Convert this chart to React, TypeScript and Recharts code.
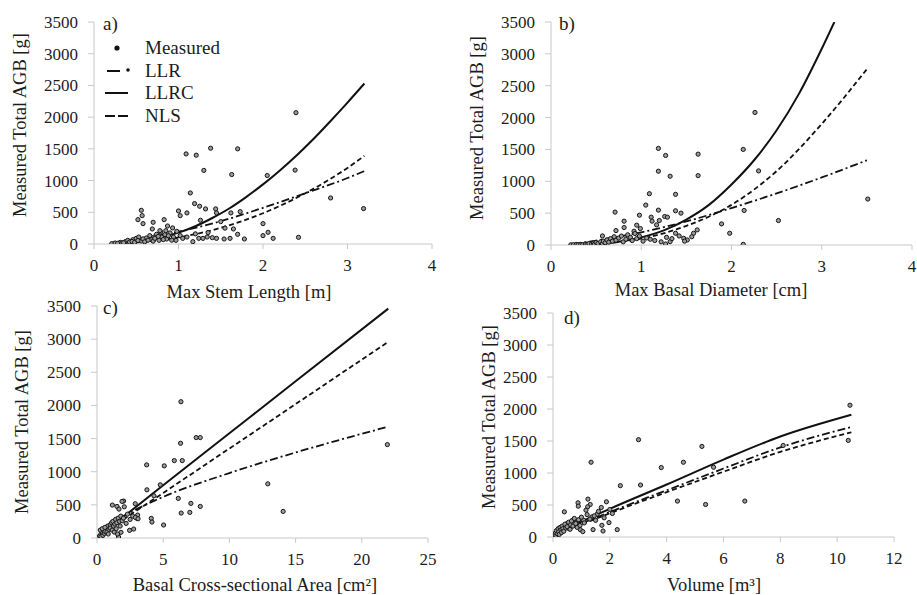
import { ComposedChart, Scatter, Line, XAxis, YAxis } from "recharts";

type Pt = [number, number];

// ---- shared axis ticks ----
const agbTicks = [0, 500, 1000, 1500, 2000, 2500, 3000, 3500];
const stemTicks = [0, 1, 2, 3, 4];
const diamTicks = [0, 1, 2, 3, 4];
const areaTicks = [0, 5, 10, 15, 20, 25];
const volTicks = [0, 2, 4, 6, 8, 10, 12];

// ---- a) max stem length ----
const stemMeasured: Pt[] = [
  [2.39, 2070], [1.09, 1420], [1.21, 1400], [1.38, 1510], [1.7, 1500], [1.3, 1160],
  [1.63, 1095], [2.05, 1080], [2.38, 1165], [1.14, 805], [1.19, 637], [1.25, 595],
  [1.32, 553], [1.44, 553], [2.8, 726], [3.19, 558], [1.0, 521], [1.1, 490],
  [1.02, 447], [0.56, 531], [0.57, 447], [0.52, 384], [0.58, 321], [0.7, 342],
  [0.83, 384], [0.87, 284], [0.93, 253], [1.26, 374], [1.45, 490], [1.5, 353],
  [1.62, 490], [1.73, 510], [1.65, 237], [1.7, 153], [1.78, 79], [2.0, 321],
  [2.0, 132], [2.06, 184], [2.12, 89], [2.42, 105], [0.21, 5], [0.25, 16],
  [0.31, 26], [0.37, 37], [0.4, 58], [0.46, 68], [0.5, 89], [0.53, 110],
  [0.56, 47], [0.62, 95], [0.66, 132], [0.68, 68], [0.71, 110], [0.74, 153],
  [0.77, 58], [0.8, 110], [0.84, 147], [0.86, 79], [0.9, 174], [0.94, 110],
  [0.97, 58], [1.02, 132], [1.05, 89], [1.1, 110], [1.17, 37], [1.24, 89],
  [1.29, 89], [1.34, 110], [1.4, 100], [1.45, 89], [1.54, 79], [1.61, 89],
  [0.28, 10], [0.33, 15], [0.35, 20], [0.42, 30], [0.45, 40], [0.48, 25],
  [0.52, 55], [0.58, 80], [0.6, 35], [0.64, 60], [0.7, 45], [0.72, 90],
  [0.76, 120], [0.82, 70], [0.88, 130], [0.92, 60], [0.98, 200], [0.79, 190],
  [0.85, 210], [0.69, 237], [0.78, 210], [1.2, 160], [1.35, 180], [1.55, 250],
];
const stemLLR: Pt[] = [
  [0.2, 18], [0.5, 70], [1.0, 195], [1.5, 360], [2.0, 570], [2.5, 800], [3.0, 1040], [3.2, 1150],
];
const stemLLRC: Pt[] = [
  [0.2, 3], [0.4, 20], [0.6, 55], [0.8, 110], [1.0, 180], [1.2, 280], [1.4, 410], [1.6, 560],
  [1.8, 740], [2.0, 940], [2.2, 1160], [2.4, 1400], [2.6, 1660], [2.8, 1940], [3.0, 2230], [3.2, 2530],
];
const stemNLS: Pt[] = [
  [0.2, 2], [0.5, 22], [1.0, 103], [1.5, 255], [2.0, 485], [2.5, 800], [3.0, 1200], [3.2, 1390],
];

// ---- b) max basal diameter ----
const diamMeasured: Pt[] = [
  [2.26, 2080], [1.19, 1516], [1.27, 1405], [1.63, 1426], [1.19, 1158], [1.32, 1079],
  [1.63, 1089], [2.13, 1500], [2.3, 1163], [1.09, 805], [1.38, 795], [3.51, 721],
  [1.05, 626], [1.19, 547], [1.38, 537], [1.44, 500], [0.71, 516], [2.14, 542],
  [2.52, 384], [1.89, 331], [1.98, 184], [2.13, 10], [0.98, 468], [1.11, 437],
  [1.12, 374], [1.26, 447], [1.29, 437], [0.81, 374], [0.81, 274], [0.95, 311],
  [0.99, 258], [0.72, 226], [0.92, 216], [1.2, 384], [1.17, 316], [1.62, 237],
  [1.58, 184], [1.38, 184], [1.42, 142], [1.47, 105], [1.51, 79], [1.32, 53],
  [1.27, 16], [0.57, 142], [0.22, 3], [0.25, 5], [0.28, 8], [0.3, 4], [0.33, 10],
  [0.35, 6], [0.38, 15], [0.4, 12], [0.42, 22], [0.45, 18], [0.47, 30], [0.48, 10],
  [0.5, 40], [0.52, 25], [0.55, 50], [0.57, 20], [0.58, 60], [0.6, 35], [0.62, 80],
  [0.64, 45], [0.66, 100], [0.68, 60], [0.7, 130], [0.72, 75], [0.75, 110],
  [0.78, 140], [0.8, 50], [0.83, 90], [0.85, 160], [0.88, 120], [0.9, 70],
  [0.93, 180], [0.95, 100], [0.98, 140], [1.02, 60], [1.06, 110], [1.1, 90],
  [1.15, 70], [1.22, 50], [1.28, 120], [1.34, 100], [1.56, 130], [1.48, 60],
];
const diamLLR: Pt[] = [
  [0.25, 12], [0.5, 70], [1.0, 200], [1.5, 370], [2.0, 580], [2.5, 810], [3.0, 1060], [3.5, 1330],
];
const diamLLRC: Pt[] = [
  [0.25, 1], [0.5, 15], [0.75, 50], [1.0, 120], [1.25, 230], [1.5, 400], [1.75, 630],
  [2.0, 950], [2.25, 1330], [2.5, 1800], [2.75, 2380], [3.0, 3080], [3.14, 3500],
];
const diamNLS: Pt[] = [
  [0.25, 2], [0.5, 16], [1.0, 100], [1.5, 300], [2.0, 630], [2.5, 1160], [3.0, 1900], [3.5, 2760],
];

// ---- c) basal cross-sectional area ----
const areaMeasured: Pt[] = [
  [6.34, 2056], [6.31, 1429], [7.49, 1515], [7.8, 1515], [5.84, 1168], [6.44, 1168],
  [3.75, 1103], [5.08, 1088], [21.93, 1409], [4.78, 802], [12.9, 817], [3.77, 727],
  [4.3, 637], [6.14, 597], [7.09, 522], [7.8, 476], [6.36, 376], [7.01, 386],
  [14.06, 401], [2.89, 517], [4.1, 296], [4.15, 241], [5.03, 196], [2.01, 557],
  [1.89, 552], [1.16, 497], [1.51, 476], [1.66, 436], [2.06, 471], [3.02, 296],
  [3.07, 346], [2.77, 135], [2.46, 115], [1.63, 15], [1.81, 85], [0.1, 10],
  [0.2, 30], [0.3, 60], [0.3, 20], [0.4, 80], [0.45, 40], [0.5, 120], [0.55, 70],
  [0.6, 100], [0.7, 150], [0.75, 90], [0.8, 180], [0.85, 60], [0.9, 130],
  [1.0, 200], [1.0, 150], [1.1, 230], [1.15, 120], [1.2, 250], [1.25, 180],
  [1.3, 90], [1.35, 210], [1.4, 280], [1.45, 140], [1.5, 230], [1.55, 60],
  [1.6, 300], [1.7, 250], [1.75, 180], [1.8, 330], [1.9, 260], [2.0, 300],
  [2.2, 220], [2.3, 360], [2.5, 280], [2.7, 330], [2.9, 310], [3.1, 290],
  [0.25, 120], [0.4, 140], [0.6, 160],
];
const areaLLR: Pt[] = [
  [0, 0], [0.5, 130], [1, 210], [2, 330], [5, 620], [10, 980], [15, 1290], [22, 1680],
];
const areaLLRC: Pt[] = [
  [0, 0], [2, 320], [5, 795], [10, 1580], [15, 2365], [22, 3460],
];
const areaNLS: Pt[] = [
  [0, 0], [2, 280], [5, 680], [10, 1350], [15, 2020], [22, 2960],
];

// ---- d) volume ----
const volMeasured: Pt[] = [
  [10.45, 2059], [3.01, 1520], [5.24, 1415], [1.34, 1168], [3.81, 1085], [4.59, 1168],
  [10.39, 1509], [2.37, 802], [3.08, 812], [4.38, 561], [5.37, 508], [6.75, 561],
  [8.1, 1430], [5.65, 1090], [0.4, 393], [0.88, 534], [0.89, 482], [1.23, 592],
  [1.31, 508], [1.22, 472], [1.16, 419], [1.88, 550], [1.7, 461], [1.41, 115],
  [1.72, 183], [1.76, 94], [1.97, 225], [2.09, 367], [2.26, 115], [0.96, 115],
  [1.05, 84], [0.7, 262], [0.49, 210], [0.84, 236], [1.08, 262], [1.37, 314],
  [1.55, 356], [0.03, 10], [0.05, 30], [0.08, 60], [0.1, 20], [0.12, 100],
  [0.15, 50], [0.18, 130], [0.2, 80], [0.22, 40], [0.25, 150], [0.28, 110],
  [0.3, 70], [0.32, 170], [0.35, 130], [0.38, 90], [0.42, 200], [0.45, 140],
  [0.5, 160], [0.55, 230], [0.6, 120], [0.62, 190], [0.65, 250], [0.7, 170],
  [0.75, 290], [0.8, 210], [0.85, 150], [0.9, 270], [0.95, 180], [1.0, 310],
  [1.1, 220], [1.2, 350], [1.3, 280], [1.45, 330], [1.5, 260], [1.6, 400],
  [1.8, 300], [2.0, 430],
];
const volLLR: Pt[] = [
  [0, 0], [0.5, 110], [1, 210], [2, 390], [4, 730], [6, 1070], [8, 1400], [10.5, 1720],
];
const volLLRC: Pt[] = [
  [0, 0], [0.5, 130], [1, 240], [2, 440], [4, 820], [6, 1210], [8, 1570], [10.5, 1910],
];
const volNLS: Pt[] = [
  [0, 0], [0.5, 100], [1, 195], [2, 370], [4, 700], [6, 1020], [8, 1330], [10.5, 1635],
];

const legendItems = ["Measured", "LLR", "LLRC", "NLS"];

const toXY = (pts: Pt[]) => pts.map(([x, y]) => ({ x, y }));

const FONT = "'Liberation Serif', 'Times New Roman', serif";
const INK = "#1c1c1c";
const AXIS = "#c8c8c8";
const LLR_DASH = "8 3 2 3";
const NLS_DASH = "5 3";

const tickText = { fontFamily: FONT, fontSize: 17, fill: INK };

const dot = (props: any) => (
  <circle cx={props.cx} cy={props.cy} r={2.1} fill="#9a9a9a" stroke="#151515" strokeWidth={1} />
);

// custom ticks so the serif face and size are applied for sure
const xTick = (props: any) => (
  <text x={props.x} y={props.y + 11} textAnchor="middle" style={tickText}>
    {props.payload.value}
  </text>
);
const yTick = (props: any) => (
  <text x={props.x} y={props.y + 6} textAnchor="end" style={tickText}>
    {props.payload.value}
  </text>
);

const LegendMark = ({ kind }: { kind: string }) => (
  <svg width={40} height={12}>
    {kind === "Measured" && <circle cx={12} cy={6} r={2.6} fill="#111" />}
    {kind === "LLRC" && <line x1={0} x2={23} y1={6} y2={6} stroke="#111" strokeWidth={2} />}
    {kind === "NLS" && (
      <line x1={0} x2={23} y1={6} y2={6} stroke="#111" strokeWidth={2} strokeDasharray="10 3" />
    )}
    {kind === "LLR" && (
      <g>
        <line x1={2} x2={15} y1={6} y2={6} stroke="#111" strokeWidth={2} />
        <circle cx={23} cy={5} r={1.8} fill="#111" />
      </g>
    )}
  </svg>
);

const LegendBox = () => (
  <div style={{ position: "absolute", left: 105, top: 37, fontFamily: FONT, fontSize: 19, color: INK }}>
    {legendItems.map((k) => (
      <div key={k} style={{ height: 22.5, display: "flex", alignItems: "center" }}>
        <LegendMark kind={k} />
        <span>{k}</span>
      </div>
    ))}
  </div>
);

interface PanelProps {
  left: number;
  top: number;
  margin: { top: number; right: number; bottom: number; left: number };
  xMax: number;
  xTicks: number[];
  measured: Pt[];
  llr: Pt[];
  llrc: Pt[];
  nls: Pt[];
}

const Panel = ({ left, top, margin, xMax, xTicks, measured, llr, llrc, nls }: PanelProps) => (
  <div style={{ position: "absolute", left, top, fontFamily: FONT }}>
    <ComposedChart width={460} height={300} margin={margin} style={{ fontFamily: FONT }}>
      <XAxis
        type="number"
        dataKey="x"
        domain={[0, xMax]}
        ticks={xTicks}
        interval={0}
        height={30}
        stroke={AXIS}
        tickSize={5}
        tickMargin={11}
        tick={xTick}
        allowDataOverflow
      />
      <YAxis
        type="number"
        dataKey="y"
        domain={[0, 3500]}
        ticks={agbTicks}
        interval={0}
        width={60}
        stroke={AXIS}
        tickSize={6}
        tickMargin={10}
        tick={yTick}
        allowDataOverflow
      />
      <Scatter data={toXY(measured)} shape={dot} isAnimationActive={false} />
      <Line data={toXY(llr)} dataKey="y" type="monotone" dot={false} stroke="#111" strokeWidth={1.8}
        strokeDasharray={LLR_DASH} isAnimationActive={false} />
      <Line data={toXY(llrc)} dataKey="y" type="monotone" dot={false} stroke="#111" strokeWidth={2}
        isAnimationActive={false} />
      <Line data={toXY(nls)} dataKey="y" type="monotone" dot={false} stroke="#111" strokeWidth={1.8}
        strokeDasharray={NLS_DASH} isAnimationActive={false} />
    </ComposedChart>
  </div>
);

const Title = ({ x, y, text, rotate }: { x: number; y: number; text: string; rotate?: boolean }) => (
  <div
    style={{
      position: "absolute",
      left: x,
      top: y,
      transform: `translate(-50%, -50%)${rotate ? " rotate(-90deg)" : ""}`,
      whiteSpace: "nowrap",
      fontFamily: FONT,
      fontSize: 18.5,
      color: INK,
      lineHeight: 1,
    }}
  >
    {text}
  </div>
);

const Tag = ({ x, y, text }: { x: number; y: number; text: string }) => (
  <div
    style={{
      position: "absolute",
      left: x,
      top: y,
      transform: "translateY(-50%)",
      fontFamily: FONT,
      fontSize: 19,
      color: INK,
      lineHeight: 1,
    }}
  >
    {text}
  </div>
);

export default function App() {
  return (
    <div style={{ position: "absolute", left: 0, top: 0, width: 917, height: 595, background: "#fff", overflow: "hidden" }}>
      <Panel left={0} top={0} margin={{ top: 22, right: 28, bottom: 26, left: 34 }} xMax={4} xTicks={stemTicks}
        measured={stemMeasured} llr={stemLLR} llrc={stemLLRC} nls={stemNLS} />
      <Panel left={457} top={0} margin={{ top: 22, right: 5, bottom: 25, left: 34 }} xMax={4} xTicks={diamTicks}
        measured={diamMeasured} llr={diamLLR} llrc={diamLLRC} nls={diamNLS} />
      <Panel left={0} top={290} margin={{ top: 16, right: 32, bottom: 22, left: 37 }} xMax={25} xTicks={areaTicks}
        measured={areaMeasured} llr={areaLLR} llrc={areaLLRC} nls={areaNLS} />
      <Panel left={457} top={290} margin={{ top: 23, right: 23, bottom: 23, left: 36 }} xMax={12} xTicks={volTicks}
        measured={volMeasured} llr={volLLR} llrc={volLLRC} nls={volNLS} />

      <LegendBox />

      <Title x={20} y={125} text="Measured Total AGB [g]" rotate />
      <Title x={477} y={128} text="Measured Total AGB [g]" rotate />
      <Title x={22} y={422} text="Measured Total AGB [g]" rotate />
      <Title x={489} y={417} text="Measured Total AGB [g]" rotate />

      <Title x={249} y={292} text="Max Stem Length [m]" />
      <Title x={711} y={290} text="Max Basal Diameter [cm]" />
      <Title x={255} y={585} text="Basal Cross-sectional Area [cm²]" />
      <Title x={714} y={585} text="Volume [m³]" />

      <Tag x={103} y={23} text="a)" />
      <Tag x={559} y={23} text="b)" />
      <Tag x={103} y={307} text="c)" />
      <Tag x={564} y={317} text="d)" />
    </div>
  );
}
